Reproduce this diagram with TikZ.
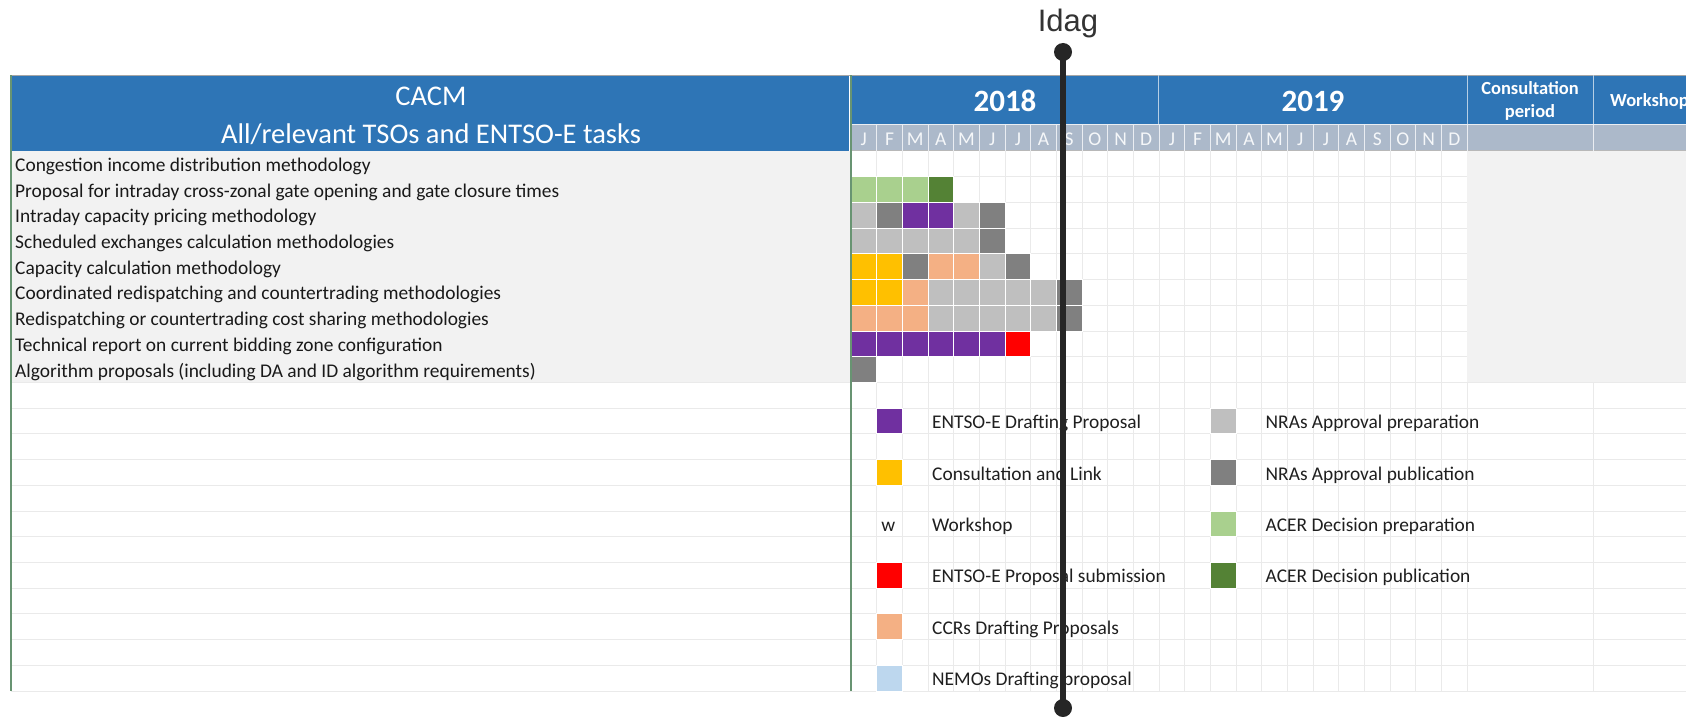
\documentclass[tikz,border=0pt]{standalone}
\usepackage{fontspec}
\setmainfont{Carlito}
\newfontfamily\idagfont{Liberation Sans}
\definecolor{hdrblue}{RGB}{46,117,182}
\definecolor{monthgray}{RGB}{172,185,202}
\definecolor{rowgray}{RGB}{242,242,242}
\definecolor{gridc}{RGB}{234,234,234}
\definecolor{bordergreen}{RGB}{104,148,114}
\definecolor{cpurple}{RGB}{112,48,160}
\definecolor{clgray}{RGB}{191,191,191}
\definecolor{cdgray}{RGB}{128,128,128}
\definecolor{clgreen}{RGB}{169,208,142}
\definecolor{cdgreen}{RGB}{84,130,53}
\definecolor{cyellow}{RGB}{255,192,0}
\definecolor{csalmon}{RGB}{244,176,132}
\definecolor{cred}{RGB}{255,0,0}
\definecolor{clblue}{RGB}{189,215,238}
\definecolor{idagc}{RGB}{38,38,38}
\newcommand{\gcell}[3]{%
  \pgfmathsetmacro\gx{851+#1*25.67}%
  \pgfmathsetmacro\gy{151+#2*25.71}%
  \filldraw[cellbox, fill=#3] (\gx,\gy) rectangle ++(25.67,25.71);}
\begin{document}
\begin{tikzpicture}[x=1pt,y=-1pt,
  cellbox/.style={draw=white, line width=0.8pt},
  gridline/.style={draw=gridc, line width=0.8pt},
  rowtext/.style={anchor=base west, inner sep=0pt, font=\fontsize{19.4}{21}\selectfont, text=black!90},
  legtext/.style={anchor=base west, inner sep=0pt, font=\fontsize{19.4}{21}\selectfont, text=black!88},
  monthtext/.style={anchor=base, inner sep=0pt, font=\fontsize{19.5}{21}\selectfont, text=white!88!monthgray},
  yeartext/.style={anchor=base, inner sep=0pt, font=\bfseries\fontsize{31}{33}\selectfont, text=white},
  hdrtext/.style={anchor=base, inner sep=0pt, font=\fontsize{28.5}{30}\selectfont, text=white},
  smallhdr/.style={anchor=base, inner sep=0pt, font=\bfseries\fontsize{18.5}{20}\selectfont, text=white},
  idagdot/.style={circle, fill=idagc, minimum size=18pt, inner sep=0pt}
]
\useasboundingbox (0,0) rectangle (1686,717);
\fill[white] (0,0) rectangle (1686,717);

% header blocks
\fill[hdrblue] (11,75) rectangle (849,150.5);
\fill[hdrblue] (852,75) rectangle (1686,124);
\fill[monthgray] (852,124) rectangle (1686,150.5);
\draw[black!35, line width=0.8pt] (11,75) -- (1686,75);
\draw[white!75!monthgray, line width=1pt] (852,124) -- (1686,124);
\draw[black!28, line width=1pt] (852,150.8) -- (1686,150.8);
\foreach \x in {1158.9,1467,1593} \draw[white!65!hdrblue, line width=1pt] (\x,75) -- (\x,124);
\foreach \i in {1,...,23} {\pgfmathsetmacro\xx{851+\i*25.67}\draw[white!75!monthgray, line width=1pt] (\xx,124) -- (\xx,150.5);}
\foreach \x in {1467,1593} \draw[white!75!monthgray, line width=1pt] (\x,124) -- (\x,150.5);

% grey bands
\fill[rowgray] (11,151.3) rectangle (851,382.4);
\fill[rowgray] (1467,151.3) rectangle (1686,382.4);

% grid
\foreach \r in {1,...,21} {\pgfmathsetmacro\yy{151+\r*25.71}\draw[gridline] (851,\yy) -- (1467,\yy);}
\foreach \r in {9,...,21} {\pgfmathsetmacro\yy{151+\r*25.71}\draw[gridline] (11,\yy) -- (851,\yy);\draw[gridline] (1467,\yy) -- (1686,\yy);}
\foreach \i in {1,...,23} {\pgfmathsetmacro\xx{851+\i*25.67}\draw[gridline] (\xx,151.3) -- (\xx,691);}
\foreach \x in {1467,1593} \draw[gridline] (\x,382.4) -- (\x,691);

% gantt cells
\foreach \c/\r/\col in {0/1/clgreen,1/1/clgreen,2/1/clgreen,3/1/cdgreen,
  0/2/clgray,1/2/cdgray,2/2/cpurple,3/2/cpurple,4/2/clgray,5/2/cdgray,
  0/3/clgray,1/3/clgray,2/3/clgray,3/3/clgray,4/3/clgray,5/3/cdgray,
  0/4/cyellow,1/4/cyellow,2/4/cdgray,3/4/csalmon,4/4/csalmon,5/4/clgray,6/4/cdgray,
  0/5/cyellow,1/5/cyellow,2/5/csalmon,3/5/clgray,4/5/clgray,5/5/clgray,6/5/clgray,7/5/clgray,8/5/cdgray,
  0/6/csalmon,1/6/csalmon,2/6/csalmon,3/6/clgray,4/6/clgray,5/6/clgray,6/6/clgray,7/6/clgray,8/6/cdgray,
  0/7/cpurple,1/7/cpurple,2/7/cpurple,3/7/cpurple,4/7/cpurple,5/7/cpurple,6/7/cred,
  0/8/cdgray}
  {\gcell{\c}{\r}{\col}}

% legend squares
\foreach \c/\r/\col in {1/10/cpurple,1/12/cyellow,1/16/cred,1/18/csalmon,1/20/clblue,
  14/10/clgray,14/12/cdgray,14/14/clgreen,14/16/cdgreen}
  {\gcell{\c}{\r}{\col}}

% borders
\draw[bordergreen, line width=1.8pt] (11,75) -- (11,691);
\draw[bordergreen, line width=1.8pt] (851,75) -- (851,691);

% header texts
\node[hdrtext] (cacm) at (431,105) {CACM};
\node[hdrtext] (tasks) at (431,143) {All/relevant TSOs and ENTSO-E tasks};
\node[yeartext] (y2018) at (1005,111) {2018};
\node[yeartext] (y2019) at (1313,111) {2019};
\node[smallhdr] (cons1) at (1530,95) {Consultation};
\node[smallhdr] (cons2) at (1530,117.5) {period};
\node[smallhdr, anchor=base west] (wshop) at (1610,106.5) {Workshop};
\foreach \m [count=\i from 0] in {J,F,M,A,M,J,J,A,S,O,N,D,J,F,M,A,M,J,J,A,S,O,N,D}
  {\pgfmathsetmacro\xx{851+(\i+0.5)*25.67}\node[monthtext] (m\i) at (\xx,145) {\m};}

% row labels
\foreach \t [count=\r from 0] in {Congestion income distribution methodology,
  Proposal for intraday cross-zonal gate opening and gate closure times,
  Intraday capacity pricing methodology,
  Scheduled exchanges calculation methodologies,
  Capacity calculation methodology,
  Coordinated redispatching and countertrading methodologies,
  Redispatching or countertrading cost sharing methodologies,
  Technical report on current bidding zone configuration,
  Algorithm proposals (including DA and ID algorithm requirements)}
  {\pgfmathsetmacro\yy{151+(\r+0.5)*25.71+7.5}\node[rowtext] (row\r) at (15,\yy) {\t};}

% legend texts
\node[legtext] (l1) at (932,428.6) {ENTSO-E Drafting Proposal};
\node[legtext] (l2) at (932,480) {Consultation and Link};
\node[legtext, anchor=base] (lw) at (888.2,531.4) {w};
\node[legtext] (l3) at (932,531.4) {Workshop};
\node[legtext] (l4) at (932,582.9) {ENTSO-E Proposal submission};
\node[legtext] (l5) at (932,634.3) {CCRs Drafting Proposals};
\node[legtext] (l6) at (932,685.7) {NEMOs Drafting proposal};
\node[legtext] (r1) at (1265.5,428.6) {NRAs Approval preparation};
\node[legtext] (r2) at (1265.5,480) {NRAs Approval publication};
\node[legtext] (r3) at (1265.5,531.4) {ACER Decision preparation};
\node[legtext] (r4) at (1265.5,582.9) {ACER Decision publication};

% Idag marker
\node[idagdot] (idtop) at (1063,52) {};
\node[idagdot] (idbot) at (1063,708) {};
\draw[idagc, line width=6pt] (idtop.center) -- (idbot.center);
\node[anchor=base, inner sep=0pt, font=\idagfont\fontsize{31}{33}\selectfont, text=black!80] (idag) at (1068,32) {Idag};
\end{tikzpicture}
\end{document}
